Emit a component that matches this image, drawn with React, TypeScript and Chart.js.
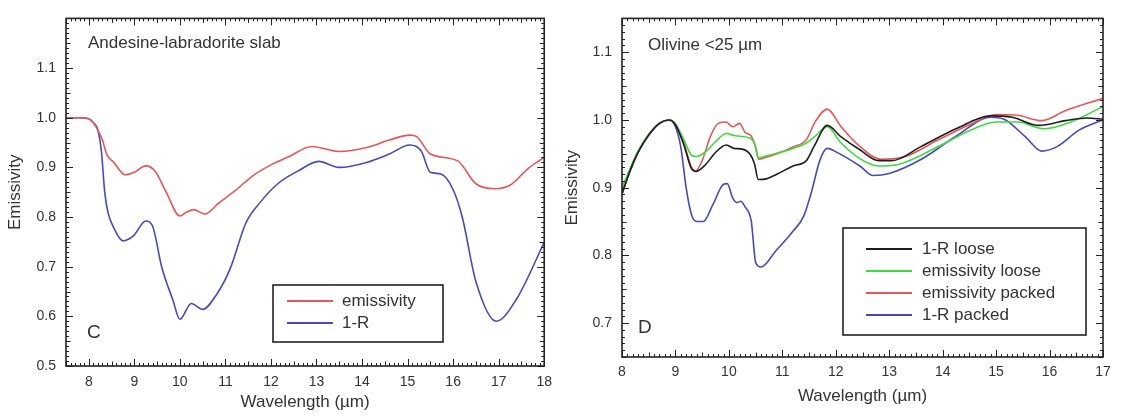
import React, { useEffect, useRef } from "react";
import { Chart, registerables } from "chart.js";

Chart.register(...registerables);

// ---------- Panel C : Andesine-labradorite slab ----------
const cEmisWl = [7.5, 7.8, 8.0, 8.1, 8.2, 8.3, 8.4, 8.55, 8.8, 9.0, 9.25, 9.45, 9.7, 10.0, 10.15, 10.3, 10.55, 10.85, 11.2, 11.6, 12.0, 12.4, 12.9, 13.5, 14.1, 14.6, 15.05, 15.2, 15.5, 16.1, 16.5, 16.9, 17.25, 17.65, 18.0];
const cEmisVal = [1.0, 1.0, 0.998, 0.99, 0.975, 0.955, 0.925, 0.91, 0.885, 0.89, 0.903, 0.893, 0.85, 0.802, 0.81, 0.815, 0.806, 0.828, 0.852, 0.883, 0.905, 0.922, 0.942, 0.932, 0.94, 0.955, 0.965, 0.962, 0.927, 0.913, 0.867, 0.857, 0.864, 0.898, 0.92];
const cRefWl = [7.5, 7.8, 8.0, 8.1, 8.2, 8.28, 8.35, 8.42, 8.55, 8.75, 8.98, 9.25, 9.4, 9.6, 9.85, 10.0, 10.25, 10.5, 10.8, 11.1, 11.45, 11.75, 12.15, 12.6, 13.05, 13.5, 14.1, 14.6, 15.05, 15.3, 15.5, 15.72, 16.0, 16.2, 16.5, 16.95, 17.4, 18.0];
const cRefVal = [1.0, 1.0, 0.998, 0.99, 0.975, 0.93, 0.85, 0.81, 0.778, 0.752, 0.762, 0.792, 0.782, 0.7, 0.632, 0.594, 0.626, 0.614, 0.643, 0.695, 0.788, 0.828, 0.867, 0.893, 0.912, 0.9, 0.91, 0.927, 0.945, 0.933, 0.89, 0.887, 0.855, 0.8, 0.67, 0.59, 0.636, 0.749];
const cXTicks = [8, 9, 10, 11, 12, 13, 14, 15, 16, 17, 18];
const cYTicks = [0.5, 0.6, 0.7, 0.8, 0.9, 1.0, 1.1, 1.2];
const cYLabelled = [0.5, 0.6, 0.7, 0.8, 0.9, 1.0, 1.1];
const cLegend = ["emissivity", "1-R"];

// ---------- Panel D : Olivine <25 µm ----------
const dBlackWl = [8.0, 8.15, 8.3, 8.5, 8.7, 8.88, 9.0, 9.15, 9.3, 9.38, 9.55, 9.75, 9.95, 10.1, 10.25, 10.4, 10.48, 10.55, 10.7, 10.9, 11.2, 11.45, 11.6, 11.84, 12.1, 12.45, 12.8, 13.05, 13.6, 14.25, 14.9, 15.3, 15.8, 16.3, 16.7, 17.0];
const dBlackVal = [0.89, 0.925, 0.952, 0.978, 0.995, 1.0, 0.993, 0.965, 0.928, 0.924, 0.933, 0.952, 0.963, 0.958, 0.957, 0.949, 0.935, 0.912, 0.913, 0.92, 0.932, 0.94, 0.962, 0.992, 0.975, 0.956, 0.94, 0.94, 0.961, 0.987, 1.006, 1.004, 0.992, 0.999, 1.003, 1.001];
const dGreenWl = [8.0, 8.15, 8.3, 8.5, 8.7, 8.88, 9.0, 9.15, 9.3, 9.38, 9.55, 9.75, 9.95, 10.1, 10.2, 10.4, 10.48, 10.55, 10.7, 10.9, 11.2, 11.45, 11.6, 11.84, 12.1, 12.45, 12.8, 13.2, 13.9, 14.5, 15.0, 15.4, 15.9, 16.4, 17.0];
const dGreenVal = [0.9, 0.928, 0.954, 0.979, 0.995, 1.0, 0.994, 0.972, 0.948, 0.946, 0.952, 0.968, 0.98, 0.977, 0.976, 0.973, 0.965, 0.944, 0.947, 0.951, 0.958, 0.966, 0.975, 0.99, 0.966, 0.943, 0.932, 0.935, 0.96, 0.984, 0.997, 0.997, 0.987, 0.997, 1.02];
const dRedWl = [8.0, 8.15, 8.3, 8.5, 8.7, 8.88, 9.0, 9.15, 9.3, 9.38, 9.5, 9.65, 9.8, 9.95, 10.07, 10.2, 10.3, 10.42, 10.5, 10.56, 10.7, 10.9, 11.2, 11.45, 11.62, 11.84, 12.1, 12.45, 12.85, 13.3, 13.9, 14.5, 15.0, 15.4, 15.85, 16.3, 17.0];
const dRedVal = [0.895, 0.927, 0.953, 0.978, 0.995, 1.0, 0.994, 0.968, 0.93, 0.925, 0.94, 0.975, 0.995, 0.997, 0.99, 0.995, 0.982, 0.976, 0.96, 0.942, 0.945, 0.95, 0.96, 0.971, 0.998, 1.016, 0.99, 0.961, 0.942, 0.946, 0.97, 0.993, 1.008, 1.007, 0.999, 1.014, 1.032];
const dBlueWl = [8.0, 8.15, 8.3, 8.5, 8.7, 8.88, 9.0, 9.1, 9.2, 9.3, 9.4, 9.52, 9.7, 9.9, 9.97, 10.07, 10.15, 10.22, 10.3, 10.42, 10.5, 10.6, 10.88, 11.18, 11.4, 11.55, 11.7, 11.84, 12.05, 12.45, 12.7, 13.0, 13.6, 14.25, 14.9, 15.15, 15.55, 15.85, 16.15, 16.55, 17.0];
const dBlueVal = [0.892, 0.924, 0.952, 0.977, 0.995, 1.0, 0.99, 0.96, 0.9, 0.86, 0.85, 0.85, 0.875, 0.905, 0.906, 0.885, 0.878, 0.88, 0.872, 0.85, 0.79, 0.783, 0.807, 0.834, 0.858, 0.895, 0.94, 0.958, 0.951, 0.932, 0.918, 0.921, 0.942, 0.976, 1.004, 1.001, 0.975, 0.954, 0.961, 0.985, 1.0];
const dXTicks = [8, 9, 10, 11, 12, 13, 14, 15, 16, 17];
const dYTicks = [0.7, 0.8, 0.9, 1.0, 1.1];
const dLegend = ["1-R loose", "emissivity loose", "emissivity packed", "1-R packed"];

const FONT = "'Liberation Sans', Arial, sans-serif";
const TEXT = "#333";
const RED = "#e65656";
const BLUE = "#4848c4";
const GREEN = "#3cdc3c";
const BLACK = "#1e1e1e";

const pts = (xs: number[], ys: number[]) => xs.map((x, i) => ({ x, y: ys[i] }));

const ds = (label: string, xs: number[], ys: number[], color: string) => ({
  label,
  data: pts(xs, ys),
  borderColor: color,
  backgroundColor: color,
  borderWidth: 1.6,
  pointRadius: 0,
  cubicInterpolationMode: "monotone" as const,
  fill: false,
});

const framePlugin = {
  id: "frameTicks",
  afterDatasetsDraw(chart: any) {
    const cfg = chart.config.options.plugins.frameTicks;
    const { ctx, chartArea } = chart;
    const { left, right, top, bottom } = chartArea;
    const xs = chart.scales.x;
    const ys = chart.scales.y;
    ctx.save();
    ctx.strokeStyle = "#222";
    ctx.lineWidth = 1;
    ctx.beginPath();
    // x ticks (minor 0.1, mid 0.5, major 1)
    const xi0 = Math.ceil(xs.min * 10 - 1e-6);
    const xi1 = Math.floor(xs.max * 10 + 1e-6);
    for (let i = xi0; i <= xi1; i++) {
      const len = i % 10 === 0 ? 7 : i % 5 === 0 ? 4.5 : 3;
      const px = Math.round(xs.getPixelForValue(i / 10)) + 0.5;
      ctx.moveTo(px, bottom);
      ctx.lineTo(px, bottom - len);
      ctx.moveTo(px, top);
      ctx.lineTo(px, top + len);
    }
    // y ticks (minor 0.01, mid 0.05, major 0.1)
    const yi0 = Math.ceil(ys.min * 100 - 1e-6);
    const yi1 = Math.floor(ys.max * 100 + 1e-6);
    for (let i = yi0; i <= yi1; i++) {
      const len = i % 10 === 0 ? 7 : i % 5 === 0 ? 4.5 : 3;
      const py = Math.round(ys.getPixelForValue(i / 100)) + 0.5;
      ctx.moveTo(left, py);
      ctx.lineTo(left + len, py);
      ctx.moveTo(right, py);
      ctx.lineTo(right - len, py);
    }
    ctx.stroke();
    ctx.lineWidth = 1.6;
    ctx.strokeRect(left, top, right - left, bottom - top);

    // annotations
    ctx.fillStyle = TEXT;
    ctx.textBaseline = "middle";
    ctx.textAlign = "left";
    ctx.font = `17px ${FONT}`;
    ctx.fillText(cfg.title, cfg.titleX, cfg.titleY);
    ctx.font = `19px ${FONT}`;
    ctx.fillText(cfg.letter, cfg.letterX, cfg.letterY);

    // legend box
    const lg = cfg.legend;
    ctx.lineWidth = 1.6;
    ctx.strokeStyle = "#222";
    ctx.strokeRect(lg.x, lg.y, lg.w, lg.h);
    ctx.font = `17px ${FONT}`;
    chart.data.datasets.forEach((d: any, k: number) => {
      const idx = lg.order[k];
      const y = lg.row0 + idx * lg.rowH;
      ctx.strokeStyle = d.borderColor;
      ctx.lineWidth = 2;
      ctx.beginPath();
      ctx.moveTo(lg.lineX0, y);
      ctx.lineTo(lg.lineX1, y);
      ctx.stroke();
      ctx.fillStyle = TEXT;
      ctx.fillText(d.label, lg.textX, y);
    });
    ctx.restore();
  },
};

function makeConfig(p: any) {
  const tickFont = { family: FONT, size: 14 };
  const titleFont = { family: FONT, size: 17 };
  return {
    type: "line",
    data: { datasets: p.datasets },
    options: {
      responsive: false,
      animation: false,
      events: [],
      layout: { padding: { left: 0, top: p.padTop, right: p.padRight, bottom: 0 } },
      plugins: {
        legend: { display: false },
        tooltip: { enabled: false },
        frameTicks: p.frame,
      },
      scales: {
        x: {
          type: "linear",
          min: p.xMin,
          max: p.xMax,
          afterBuildTicks: (s: any) => {
            s.ticks = p.xTicks.map((v: number) => ({ value: v }));
          },
          afterFit: (s: any) => {
            s.height = p.xHeight;
          },
          grid: { display: false, drawTicks: false },
          border: { display: false },
          ticks: {
            padding: p.xPad,
            color: TEXT,
            font: tickFont,
            maxRotation: 0,
            autoSkip: false,
            callback: (v: any) => String(Math.round(Number(v))),
          },
          title: {
            display: true,
            text: "Wavelength (µm)",
            color: TEXT,
            font: titleFont,
            padding: { top: 0, bottom: p.xTitlePad },
          },
        },
        y: {
          type: "linear",
          min: p.yMin,
          max: p.yMax,
          afterBuildTicks: (s: any) => {
            s.ticks = p.yTicks.map((v: number) => ({ value: v }));
          },
          afterFit: (s: any) => {
            s.width = p.yWidth;
          },
          grid: { display: false, drawTicks: false },
          border: { display: false },
          ticks: {
            padding: 10,
            color: TEXT,
            font: tickFont,
            autoSkip: false,
            callback: (v: any) => {
              const n = Number(v);
              return p.yLabelled.some((t: number) => Math.abs(t - n) < 1e-6) ? n.toFixed(1) : "";
            },
          },
          title: {
            display: true,
            text: "Emissivity",
            color: TEXT,
            font: titleFont,
            padding: { top: p.yTitlePad, bottom: 0 },
          },
        },
      },
    },
    plugins: [framePlugin],
  };
}

const panelC = {
  datasets: [ds("emissivity", cEmisWl, cEmisVal, RED), ds("1-R", cRefWl, cRefVal, BLUE)],
  xMin: 7.5,
  xMax: 18,
  yMin: 0.5,
  yMax: 1.2,
  xTicks: cXTicks,
  yTicks: cYTicks,
  yLabelled: cYLabelled,
  padTop: 12,
  padRight: 12,
  xHeight: 50,
  yWidth: 66,
  xPad: 8,
  xTitlePad: 3,
  yTitlePad: 5,
  frame: {
    title: "Andesine-labradorite slab",
    titleX: 88,
    titleY: 43,
    letter: "C",
    letterX: 87,
    letterY: 333,
    legend: {
      x: 273, y: 285, w: 170, h: 57,
      row0: 301, rowH: 22, lineX0: 287, lineX1: 333, textX: 342,
      order: [0, 1],
      labels: cLegend,
    },
  },
};

const panelD = {
  datasets: [
    ds(dLegend[0], dBlackWl, dBlackVal, BLACK),
    ds(dLegend[1], dGreenWl, dGreenVal, GREEN),
    ds(dLegend[2], dRedWl, dRedVal, RED),
    ds(dLegend[3], dBlueWl, dBlueVal, BLUE),
  ],
  xMin: 8,
  xMax: 17,
  yMin: 0.65,
  yMax: 1.15,
  xTicks: dXTicks,
  yTicks: dYTicks,
  yLabelled: dYTicks,
  padTop: 11,
  padRight: 20,
  xHeight: 59,
  yWidth: 68,
  xPad: 7,
  xTitlePad: 9,
  yTitlePad: 8,
  frame: {
    title: "Olivine <25 µm",
    titleX: 94,
    titleY: 45,
    letter: "D",
    letterX: 84,
    letterY: 328,
    legend: {
      x: 289, y: 228, w: 243, h: 107,
      row0: 249, rowH: 22, lineX0: 312, lineX1: 358, textX: 368,
      order: [0, 1, 2, 3],
      labels: dLegend,
    },
  },
};

function Panel({ cfg, width }: { cfg: any; width: number }) {
  const ref = useRef<HTMLCanvasElement | null>(null);
  useEffect(() => {
    if (!ref.current) return;
    const chart = new Chart(ref.current, makeConfig(cfg) as any);
    return () => chart.destroy();
  }, [cfg]);
  return <canvas ref={ref} width={width} height={416} style={{ display: "block" }} />;
}

export default function App() {
  return (
    <div style={{ position: "absolute", left: 0, top: 0, width: 1123, height: 416, background: "#fff", overflow: "hidden" }}>
      <div style={{ position: "absolute", left: 0, top: 0, width: 554, height: 416, overflow: "hidden" }}>
        <Panel cfg={panelC} width={560} />
      </div>
      <div style={{ position: "absolute", left: 554, top: 0, width: 569, height: 416 }}>
        <Panel cfg={panelD} width={569} />
      </div>
    </div>
  );
}
